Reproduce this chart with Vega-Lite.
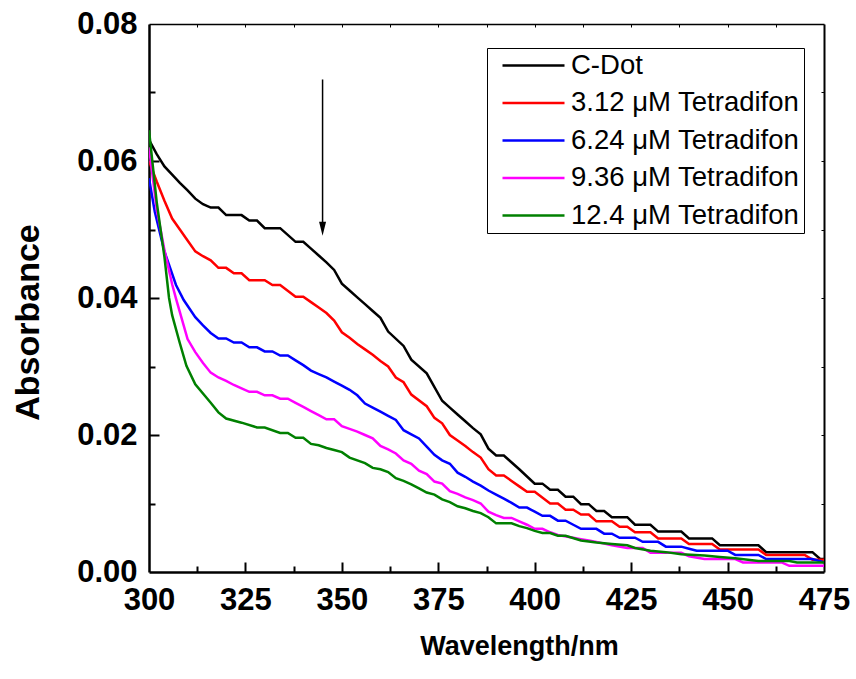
{
  "$schema": "https://vega.github.io/schema/vega-lite/v6.json",
  "width": 675,
  "height": 548,
  "autosize": {"type": "none"},
  "padding": {"left": 149, "top": 24, "right": 32, "bottom": 107},
  "background": "white",
  "config": {
    "view": {"stroke": null},
    "axis": {
      "domainColor": "black", "labelColor": "black", "titleColor": "black",
      "labelFont": "Liberation Sans", "titleFont": "Liberation Sans",
      "labelFontWeight": "bold", "titleFontWeight": "bold",
      "labelFontSize": 31, "grid": false, "labelFlush": false, "labelOverlap": false
    }
  },
  "datasets": {
    "spectra": [
      {"s":"C-Dot","x":300,"y":0.0631},{"s":"C-Dot","x":302,"y":0.0610},{"s":"C-Dot","x":304,"y":0.0592},{"s":"C-Dot","x":306,"y":0.0580},{"s":"C-Dot","x":308,"y":0.0568},{"s":"C-Dot","x":310,"y":0.0557},{"s":"C-Dot","x":312,"y":0.0545},{"s":"C-Dot","x":314,"y":0.0537},{"s":"C-Dot","x":316,"y":0.0532},{"s":"C-Dot","x":318,"y":0.0532},{"s":"C-Dot","x":320,"y":0.0521},{"s":"C-Dot","x":324,"y":0.0521},{"s":"C-Dot","x":326,"y":0.0513},{"s":"C-Dot","x":328,"y":0.0513},{"s":"C-Dot","x":330,"y":0.0502},{"s":"C-Dot","x":334,"y":0.0502},{"s":"C-Dot","x":338,"y":0.0482},{"s":"C-Dot","x":340,"y":0.0482},{"s":"C-Dot","x":342,"y":0.0472},{"s":"C-Dot","x":344,"y":0.0462},{"s":"C-Dot","x":346,"y":0.0452},{"s":"C-Dot","x":348,"y":0.0441},{"s":"C-Dot","x":350,"y":0.0421},{"s":"C-Dot","x":352,"y":0.0411},{"s":"C-Dot","x":354,"y":0.0401},{"s":"C-Dot","x":356,"y":0.0391},{"s":"C-Dot","x":358,"y":0.0381},{"s":"C-Dot","x":360,"y":0.0371},{"s":"C-Dot","x":362,"y":0.0351},{"s":"C-Dot","x":366,"y":0.0330},{"s":"C-Dot","x":368,"y":0.0310},{"s":"C-Dot","x":372,"y":0.0290},{"s":"C-Dot","x":376,"y":0.0250},{"s":"C-Dot","x":378,"y":0.0240},{"s":"C-Dot","x":380,"y":0.0230},{"s":"C-Dot","x":382,"y":0.0220},{"s":"C-Dot","x":384,"y":0.0210},{"s":"C-Dot","x":386,"y":0.0201},{"s":"C-Dot","x":388,"y":0.0180},{"s":"C-Dot","x":390,"y":0.0170},{"s":"C-Dot","x":392,"y":0.0170},{"s":"C-Dot","x":396,"y":0.0150},{"s":"C-Dot","x":400,"y":0.0129},{"s":"C-Dot","x":402,"y":0.0129},{"s":"C-Dot","x":404,"y":0.0120},{"s":"C-Dot","x":406,"y":0.0120},{"s":"C-Dot","x":408,"y":0.0110},{"s":"C-Dot","x":410,"y":0.0110},{"s":"C-Dot","x":412,"y":0.0099},{"s":"C-Dot","x":414,"y":0.0099},{"s":"C-Dot","x":416,"y":0.0089},{"s":"C-Dot","x":418,"y":0.0089},{"s":"C-Dot","x":420,"y":0.0080},{"s":"C-Dot","x":424,"y":0.0080},{"s":"C-Dot","x":426,"y":0.0069},{"s":"C-Dot","x":430,"y":0.0069},{"s":"C-Dot","x":432,"y":0.0059},{"s":"C-Dot","x":438,"y":0.0059},{"s":"C-Dot","x":440,"y":0.0049},{"s":"C-Dot","x":446,"y":0.0049},{"s":"C-Dot","x":448,"y":0.0039},{"s":"C-Dot","x":458,"y":0.0039},{"s":"C-Dot","x":460,"y":0.0029},{"s":"C-Dot","x":472,"y":0.0029},{"s":"C-Dot","x":474,"y":0.0019},{"s":"C-Dot","x":475,"y":0.0019},

      {"s":"3.12 μM Tetradifon","x":300,"y":0.0600},{"s":"3.12 μM Tetradifon","x":302,"y":0.0570},{"s":"3.12 μM Tetradifon","x":304,"y":0.0542},{"s":"3.12 μM Tetradifon","x":306,"y":0.0516},{"s":"3.12 μM Tetradifon","x":308,"y":0.0500},{"s":"3.12 μM Tetradifon","x":310,"y":0.0484},{"s":"3.12 μM Tetradifon","x":312,"y":0.0468},{"s":"3.12 μM Tetradifon","x":314,"y":0.0461},{"s":"3.12 μM Tetradifon","x":316,"y":0.0455},{"s":"3.12 μM Tetradifon","x":318,"y":0.0444},{"s":"3.12 μM Tetradifon","x":320,"y":0.0444},{"s":"3.12 μM Tetradifon","x":322,"y":0.0436},{"s":"3.12 μM Tetradifon","x":324,"y":0.0436},{"s":"3.12 μM Tetradifon","x":326,"y":0.0426},{"s":"3.12 μM Tetradifon","x":330,"y":0.0426},{"s":"3.12 μM Tetradifon","x":332,"y":0.0419},{"s":"3.12 μM Tetradifon","x":334,"y":0.0419},{"s":"3.12 μM Tetradifon","x":338,"y":0.0402},{"s":"3.12 μM Tetradifon","x":340,"y":0.0402},{"s":"3.12 μM Tetradifon","x":342,"y":0.0394},{"s":"3.12 μM Tetradifon","x":344,"y":0.0386},{"s":"3.12 μM Tetradifon","x":346,"y":0.0378},{"s":"3.12 μM Tetradifon","x":348,"y":0.0367},{"s":"3.12 μM Tetradifon","x":350,"y":0.0350},{"s":"3.12 μM Tetradifon","x":352,"y":0.0342},{"s":"3.12 μM Tetradifon","x":354,"y":0.0333},{"s":"3.12 μM Tetradifon","x":356,"y":0.0325},{"s":"3.12 μM Tetradifon","x":358,"y":0.0317},{"s":"3.12 μM Tetradifon","x":360,"y":0.0308},{"s":"3.12 μM Tetradifon","x":362,"y":0.0300},{"s":"3.12 μM Tetradifon","x":364,"y":0.0284},{"s":"3.12 μM Tetradifon","x":366,"y":0.0277},{"s":"3.12 μM Tetradifon","x":368,"y":0.0259},{"s":"3.12 μM Tetradifon","x":372,"y":0.0242},{"s":"3.12 μM Tetradifon","x":374,"y":0.0225},{"s":"3.12 μM Tetradifon","x":376,"y":0.0217},{"s":"3.12 μM Tetradifon","x":378,"y":0.0200},{"s":"3.12 μM Tetradifon","x":380,"y":0.0192},{"s":"3.12 μM Tetradifon","x":382,"y":0.0184},{"s":"3.12 μM Tetradifon","x":384,"y":0.0175},{"s":"3.12 μM Tetradifon","x":386,"y":0.0167},{"s":"3.12 μM Tetradifon","x":388,"y":0.0150},{"s":"3.12 μM Tetradifon","x":390,"y":0.0141},{"s":"3.12 μM Tetradifon","x":392,"y":0.0141},{"s":"3.12 μM Tetradifon","x":394,"y":0.0133},{"s":"3.12 μM Tetradifon","x":396,"y":0.0125},{"s":"3.12 μM Tetradifon","x":398,"y":0.0117},{"s":"3.12 μM Tetradifon","x":400,"y":0.0117},{"s":"3.12 μM Tetradifon","x":404,"y":0.0100},{"s":"3.12 μM Tetradifon","x":406,"y":0.0100},{"s":"3.12 μM Tetradifon","x":408,"y":0.0091},{"s":"3.12 μM Tetradifon","x":410,"y":0.0091},{"s":"3.12 μM Tetradifon","x":412,"y":0.0084},{"s":"3.12 μM Tetradifon","x":414,"y":0.0084},{"s":"3.12 μM Tetradifon","x":416,"y":0.0074},{"s":"3.12 μM Tetradifon","x":420,"y":0.0074},{"s":"3.12 μM Tetradifon","x":422,"y":0.0066},{"s":"3.12 μM Tetradifon","x":424,"y":0.0066},{"s":"3.12 μM Tetradifon","x":426,"y":0.0058},{"s":"3.12 μM Tetradifon","x":430,"y":0.0058},{"s":"3.12 μM Tetradifon","x":432,"y":0.0049},{"s":"3.12 μM Tetradifon","x":438,"y":0.0049},{"s":"3.12 μM Tetradifon","x":440,"y":0.0041},{"s":"3.12 μM Tetradifon","x":446,"y":0.0041},{"s":"3.12 μM Tetradifon","x":448,"y":0.0033},{"s":"3.12 μM Tetradifon","x":458,"y":0.0033},{"s":"3.12 μM Tetradifon","x":460,"y":0.0025},{"s":"3.12 μM Tetradifon","x":470,"y":0.0025},{"s":"3.12 μM Tetradifon","x":472,"y":0.0018},{"s":"3.12 μM Tetradifon","x":475,"y":0.0018},

      {"s":"6.24 μM Tetradifon","x":300,"y":0.0575},{"s":"6.24 μM Tetradifon","x":301.5,"y":0.0526},{"s":"6.24 μM Tetradifon","x":304,"y":0.0468},{"s":"6.24 μM Tetradifon","x":307,"y":0.0419},{"s":"6.24 μM Tetradifon","x":309,"y":0.0397},{"s":"6.24 μM Tetradifon","x":312,"y":0.0372},{"s":"6.24 μM Tetradifon","x":314,"y":0.0360},{"s":"6.24 μM Tetradifon","x":316,"y":0.0349},{"s":"6.24 μM Tetradifon","x":318,"y":0.0341},{"s":"6.24 μM Tetradifon","x":320,"y":0.0341},{"s":"6.24 μM Tetradifon","x":322,"y":0.0335},{"s":"6.24 μM Tetradifon","x":324,"y":0.0335},{"s":"6.24 μM Tetradifon","x":326,"y":0.0328},{"s":"6.24 μM Tetradifon","x":328,"y":0.0328},{"s":"6.24 μM Tetradifon","x":330,"y":0.0322},{"s":"6.24 μM Tetradifon","x":332,"y":0.0322},{"s":"6.24 μM Tetradifon","x":334,"y":0.0316},{"s":"6.24 μM Tetradifon","x":336,"y":0.0316},{"s":"6.24 μM Tetradifon","x":338,"y":0.0309},{"s":"6.24 μM Tetradifon","x":340,"y":0.0302},{"s":"6.24 μM Tetradifon","x":342,"y":0.0294},{"s":"6.24 μM Tetradifon","x":344,"y":0.0289},{"s":"6.24 μM Tetradifon","x":346,"y":0.0284},{"s":"6.24 μM Tetradifon","x":348,"y":0.0278},{"s":"6.24 μM Tetradifon","x":350,"y":0.0272},{"s":"6.24 μM Tetradifon","x":352,"y":0.0266},{"s":"6.24 μM Tetradifon","x":354,"y":0.0258},{"s":"6.24 μM Tetradifon","x":356,"y":0.0246},{"s":"6.24 μM Tetradifon","x":358,"y":0.0240},{"s":"6.24 μM Tetradifon","x":360,"y":0.0234},{"s":"6.24 μM Tetradifon","x":362,"y":0.0228},{"s":"6.24 μM Tetradifon","x":364,"y":0.0222},{"s":"6.24 μM Tetradifon","x":366,"y":0.0207},{"s":"6.24 μM Tetradifon","x":368,"y":0.0201},{"s":"6.24 μM Tetradifon","x":370,"y":0.0195},{"s":"6.24 μM Tetradifon","x":372,"y":0.0183},{"s":"6.24 μM Tetradifon","x":374,"y":0.0171},{"s":"6.24 μM Tetradifon","x":376,"y":0.0163},{"s":"6.24 μM Tetradifon","x":378,"y":0.0158},{"s":"6.24 μM Tetradifon","x":380,"y":0.0145},{"s":"6.24 μM Tetradifon","x":382,"y":0.0139},{"s":"6.24 μM Tetradifon","x":384,"y":0.0132},{"s":"6.24 μM Tetradifon","x":386,"y":0.0126},{"s":"6.24 μM Tetradifon","x":388,"y":0.0119},{"s":"6.24 μM Tetradifon","x":390,"y":0.0113},{"s":"6.24 μM Tetradifon","x":392,"y":0.0107},{"s":"6.24 μM Tetradifon","x":394,"y":0.0101},{"s":"6.24 μM Tetradifon","x":396,"y":0.0094},{"s":"6.24 μM Tetradifon","x":398,"y":0.0094},{"s":"6.24 μM Tetradifon","x":400,"y":0.0088},{"s":"6.24 μM Tetradifon","x":402,"y":0.0082},{"s":"6.24 μM Tetradifon","x":404,"y":0.0082},{"s":"6.24 μM Tetradifon","x":406,"y":0.0075},{"s":"6.24 μM Tetradifon","x":408,"y":0.0075},{"s":"6.24 μM Tetradifon","x":410,"y":0.0069},{"s":"6.24 μM Tetradifon","x":412,"y":0.0063},{"s":"6.24 μM Tetradifon","x":416,"y":0.0063},{"s":"6.24 μM Tetradifon","x":418,"y":0.0056},{"s":"6.24 μM Tetradifon","x":420,"y":0.0056},{"s":"6.24 μM Tetradifon","x":422,"y":0.0050},{"s":"6.24 μM Tetradifon","x":426,"y":0.0050},{"s":"6.24 μM Tetradifon","x":428,"y":0.0044},{"s":"6.24 μM Tetradifon","x":432,"y":0.0044},{"s":"6.24 μM Tetradifon","x":434,"y":0.0037},{"s":"6.24 μM Tetradifon","x":438,"y":0.0037},{"s":"6.24 μM Tetradifon","x":440,"y":0.0034},{"s":"6.24 μM Tetradifon","x":442,"y":0.0031},{"s":"6.24 μM Tetradifon","x":450,"y":0.0031},{"s":"6.24 μM Tetradifon","x":452,"y":0.0025},{"s":"6.24 μM Tetradifon","x":458,"y":0.0025},{"s":"6.24 μM Tetradifon","x":460,"y":0.0019},{"s":"6.24 μM Tetradifon","x":472,"y":0.0019},{"s":"6.24 μM Tetradifon","x":475,"y":0.0014},

      {"s":"9.36 μM Tetradifon","x":300,"y":0.0620},{"s":"9.36 μM Tetradifon","x":302,"y":0.0530},{"s":"9.36 μM Tetradifon","x":304,"y":0.0470},{"s":"9.36 μM Tetradifon","x":306,"y":0.0420},{"s":"9.36 μM Tetradifon","x":307,"y":0.0399},{"s":"9.36 μM Tetradifon","x":310,"y":0.0340},{"s":"9.36 μM Tetradifon","x":312,"y":0.0321},{"s":"9.36 μM Tetradifon","x":314,"y":0.0305},{"s":"9.36 μM Tetradifon","x":316,"y":0.0291},{"s":"9.36 μM Tetradifon","x":318,"y":0.0284},{"s":"9.36 μM Tetradifon","x":320,"y":0.0279},{"s":"9.36 μM Tetradifon","x":322,"y":0.0273},{"s":"9.36 μM Tetradifon","x":324,"y":0.0268},{"s":"9.36 μM Tetradifon","x":326,"y":0.0263},{"s":"9.36 μM Tetradifon","x":328,"y":0.0263},{"s":"9.36 μM Tetradifon","x":330,"y":0.0258},{"s":"9.36 μM Tetradifon","x":332,"y":0.0258},{"s":"9.36 μM Tetradifon","x":334,"y":0.0253},{"s":"9.36 μM Tetradifon","x":336,"y":0.0253},{"s":"9.36 μM Tetradifon","x":338,"y":0.0247},{"s":"9.36 μM Tetradifon","x":340,"y":0.0241},{"s":"9.36 μM Tetradifon","x":342,"y":0.0235},{"s":"9.36 μM Tetradifon","x":344,"y":0.0229},{"s":"9.36 μM Tetradifon","x":346,"y":0.0223},{"s":"9.36 μM Tetradifon","x":348,"y":0.0223},{"s":"9.36 μM Tetradifon","x":350,"y":0.0213},{"s":"9.36 μM Tetradifon","x":352,"y":0.0209},{"s":"9.36 μM Tetradifon","x":354,"y":0.0205},{"s":"9.36 μM Tetradifon","x":356,"y":0.0200},{"s":"9.36 μM Tetradifon","x":358,"y":0.0195},{"s":"9.36 μM Tetradifon","x":360,"y":0.0184},{"s":"9.36 μM Tetradifon","x":362,"y":0.0179},{"s":"9.36 μM Tetradifon","x":364,"y":0.0173},{"s":"9.36 μM Tetradifon","x":366,"y":0.0163},{"s":"9.36 μM Tetradifon","x":368,"y":0.0158},{"s":"9.36 μM Tetradifon","x":370,"y":0.0148},{"s":"9.36 μM Tetradifon","x":372,"y":0.0143},{"s":"9.36 μM Tetradifon","x":374,"y":0.0132},{"s":"9.36 μM Tetradifon","x":376,"y":0.0129},{"s":"9.36 μM Tetradifon","x":378,"y":0.0118},{"s":"9.36 μM Tetradifon","x":380,"y":0.0114},{"s":"9.36 μM Tetradifon","x":382,"y":0.0109},{"s":"9.36 μM Tetradifon","x":384,"y":0.0105},{"s":"9.36 μM Tetradifon","x":386,"y":0.0100},{"s":"9.36 μM Tetradifon","x":388,"y":0.0088},{"s":"9.36 μM Tetradifon","x":390,"y":0.0083},{"s":"9.36 μM Tetradifon","x":392,"y":0.0079},{"s":"9.36 μM Tetradifon","x":394,"y":0.0079},{"s":"9.36 μM Tetradifon","x":396,"y":0.0074},{"s":"9.36 μM Tetradifon","x":398,"y":0.0069},{"s":"9.36 μM Tetradifon","x":400,"y":0.0063},{"s":"9.36 μM Tetradifon","x":402,"y":0.0063},{"s":"9.36 μM Tetradifon","x":404,"y":0.0058},{"s":"9.36 μM Tetradifon","x":406,"y":0.0054},{"s":"9.36 μM Tetradifon","x":410,"y":0.0050},{"s":"9.36 μM Tetradifon","x":412,"y":0.0048},{"s":"9.36 μM Tetradifon","x":414,"y":0.0046},{"s":"9.36 μM Tetradifon","x":416,"y":0.0044},{"s":"9.36 μM Tetradifon","x":420,"y":0.0039},{"s":"9.36 μM Tetradifon","x":424,"y":0.0035},{"s":"9.36 μM Tetradifon","x":428,"y":0.0035},{"s":"9.36 μM Tetradifon","x":430,"y":0.0028},{"s":"9.36 μM Tetradifon","x":438,"y":0.0028},{"s":"9.36 μM Tetradifon","x":440,"y":0.0023},{"s":"9.36 μM Tetradifon","x":444,"y":0.0019},{"s":"9.36 μM Tetradifon","x":452,"y":0.0019},{"s":"9.36 μM Tetradifon","x":454,"y":0.0014},{"s":"9.36 μM Tetradifon","x":464,"y":0.0014},{"s":"9.36 μM Tetradifon","x":466,"y":0.0009},{"s":"9.36 μM Tetradifon","x":475,"y":0.0009},

      {"s":"12.4 μM Tetradifon","x":300,"y":0.0645},{"s":"12.4 μM Tetradifon","x":302,"y":0.0540},{"s":"12.4 μM Tetradifon","x":304,"y":0.0460},{"s":"12.4 μM Tetradifon","x":305.2,"y":0.0400},{"s":"12.4 μM Tetradifon","x":306,"y":0.0375},{"s":"12.4 μM Tetradifon","x":308,"y":0.0334},{"s":"12.4 μM Tetradifon","x":309.7,"y":0.0301},{"s":"12.4 μM Tetradifon","x":312,"y":0.0274},{"s":"12.4 μM Tetradifon","x":316,"y":0.0247},{"s":"12.4 μM Tetradifon","x":318,"y":0.0233},{"s":"12.4 μM Tetradifon","x":320,"y":0.0224},{"s":"12.4 μM Tetradifon","x":324,"y":0.0218},{"s":"12.4 μM Tetradifon","x":328,"y":0.0211},{"s":"12.4 μM Tetradifon","x":330,"y":0.0211},{"s":"12.4 μM Tetradifon","x":334,"y":0.0203},{"s":"12.4 μM Tetradifon","x":336,"y":0.0203},{"s":"12.4 μM Tetradifon","x":338,"y":0.0196},{"s":"12.4 μM Tetradifon","x":340,"y":0.0196},{"s":"12.4 μM Tetradifon","x":342,"y":0.0187},{"s":"12.4 μM Tetradifon","x":344,"y":0.0185},{"s":"12.4 μM Tetradifon","x":346,"y":0.0181},{"s":"12.4 μM Tetradifon","x":348,"y":0.0178},{"s":"12.4 μM Tetradifon","x":350,"y":0.0175},{"s":"12.4 μM Tetradifon","x":352,"y":0.0167},{"s":"12.4 μM Tetradifon","x":356,"y":0.0159},{"s":"12.4 μM Tetradifon","x":358,"y":0.0152},{"s":"12.4 μM Tetradifon","x":360,"y":0.0150},{"s":"12.4 μM Tetradifon","x":362,"y":0.0146},{"s":"12.4 μM Tetradifon","x":364,"y":0.0137},{"s":"12.4 μM Tetradifon","x":366,"y":0.0133},{"s":"12.4 μM Tetradifon","x":368,"y":0.0128},{"s":"12.4 μM Tetradifon","x":370,"y":0.0122},{"s":"12.4 μM Tetradifon","x":372,"y":0.0116},{"s":"12.4 μM Tetradifon","x":374,"y":0.0113},{"s":"12.4 μM Tetradifon","x":376,"y":0.0106},{"s":"12.4 μM Tetradifon","x":378,"y":0.0102},{"s":"12.4 μM Tetradifon","x":380,"y":0.0096},{"s":"12.4 μM Tetradifon","x":382,"y":0.0093},{"s":"12.4 μM Tetradifon","x":384,"y":0.0089},{"s":"12.4 μM Tetradifon","x":386,"y":0.0086},{"s":"12.4 μM Tetradifon","x":388,"y":0.0080},{"s":"12.4 μM Tetradifon","x":390,"y":0.0071},{"s":"12.4 μM Tetradifon","x":394,"y":0.0071},{"s":"12.4 μM Tetradifon","x":396,"y":0.0067},{"s":"12.4 μM Tetradifon","x":398,"y":0.0064},{"s":"12.4 μM Tetradifon","x":400,"y":0.0060},{"s":"12.4 μM Tetradifon","x":402,"y":0.0057},{"s":"12.4 μM Tetradifon","x":404,"y":0.0057},{"s":"12.4 μM Tetradifon","x":406,"y":0.0053},{"s":"12.4 μM Tetradifon","x":408,"y":0.0053},{"s":"12.4 μM Tetradifon","x":412,"y":0.0046},{"s":"12.4 μM Tetradifon","x":416,"y":0.0043},{"s":"12.4 μM Tetradifon","x":420,"y":0.0041},{"s":"12.4 μM Tetradifon","x":424,"y":0.0039},{"s":"12.4 μM Tetradifon","x":426,"y":0.0035},{"s":"12.4 μM Tetradifon","x":430,"y":0.0031},{"s":"12.4 μM Tetradifon","x":434,"y":0.0029},{"s":"12.4 μM Tetradifon","x":438,"y":0.0026},{"s":"12.4 μM Tetradifon","x":444,"y":0.0024},{"s":"12.4 μM Tetradifon","x":448,"y":0.0022},{"s":"12.4 μM Tetradifon","x":452,"y":0.0020},{"s":"12.4 μM Tetradifon","x":458,"y":0.0016},{"s":"12.4 μM Tetradifon","x":466,"y":0.0016},{"s":"12.4 μM Tetradifon","x":468,"y":0.0014},{"s":"12.4 μM Tetradifon","x":475,"y":0.0014}
    ],
    "arrow": [{"x": 345, "y": 0.0719, "y2": 0.0501}]
  },
  "resolve": {"axis": {"x": "independent", "y": "independent"}},
  "layer": [
    {
      "data": {"name": "spectra"},
      "mark": {"type": "line", "strokeWidth": 2.5, "clip": true},
      "encoding": {
        "x": {"field": "x", "type": "quantitative",
          "scale": {"domain": [300, 475], "nice": false, "zero": false},
          "axis": {"orient": "bottom", "values": [300, 325, 350, 375, 400, 425, 450, 475], "ticks": false, "domainWidth": 2.5, "labelPadding": 13,
            "title": "Wavelength/nm", "titleFontSize": 27, "titleX": 370, "titleY": 82, "titleBaseline": "alphabetic", "titleAlign": "center"}},
        "y": {"field": "y", "type": "quantitative",
          "scale": {"domain": [0, 0.08], "nice": false, "zero": true},
          "axis": {"orient": "left", "values": [0, 0.02, 0.04, 0.06, 0.08], "format": ".2f", "ticks": false, "domainWidth": 2.5, "labelPadding": 12,
            "title": "Absorbance", "titleFontSize": 34, "titleX": -111, "titleY": 298, "titleBaseline": "alphabetic", "titleAngle": -90, "titleAlign": "center"}},
        "color": {"field": "s", "type": "nominal",
          "scale": {"domain": ["C-Dot", "3.12 μM Tetradifon", "6.24 μM Tetradifon", "9.36 μM Tetradifon", "12.4 μM Tetradifon"],
                    "range": ["#000000", "#ff0000", "#0000ff", "#ff00ff", "#008000"]},
          "legend": {"orient": "none", "legendX": 338, "legendY": 24, "title": null,
            "strokeColor": "black", "fillColor": "white", "padding": 4,
            "symbolType": "stroke", "symbolSize": 3844, "symbolStrokeWidth": 2.5,
            "labelFont": "Liberation Sans", "labelFontSize": 27.5, "labelColor": "black", "labelLimit": 0,
            "clipHeight": 27, "rowPadding": 9.5, "labelOffset": 5, "symbolOffset": 10}}
      }
    },
    {
      "data": {"name": "arrow"},
      "mark": {"type": "rule", "color": "black", "strokeWidth": 1.5},
      "encoding": {
        "x": {"field": "x", "type": "quantitative", "scale": {"domain": [300, 475], "nice": false, "zero": false},
          "axis": {"orient": "bottom", "offset": -10, "values": [325, 350, 375, 400, 425, 450], "ticks": true, "tickColor": "black", "tickSize": 10, "tickWidth": 2, "labels": false, "domain": false, "title": null}},
        "y": {"field": "y", "type": "quantitative", "scale": {"domain": [0, 0.08], "nice": false},
          "axis": {"orient": "left", "offset": -10, "values": [0.02, 0.04, 0.06], "ticks": true, "tickColor": "black", "tickSize": 10, "tickWidth": 2, "labels": false, "domain": false, "title": null}},
        "y2": {"field": "y2"}
      }
    },
    {
      "data": {"name": "arrow"},
      "mark": {"type": "point", "shape": "M-0.5,-1L0.5,-1L0,1Z", "filled": true, "color": "black", "opacity": 1, "size": 196},
      "encoding": {
        "x": {"field": "x", "type": "quantitative", "scale": {"domain": [300, 475], "nice": false, "zero": false},
          "axis": {"orient": "bottom", "offset": -6, "values": [312.5, 337.5, 362.5, 387.5, 412.5, 437.5, 462.5], "ticks": true, "tickColor": "black", "tickSize": 6, "tickWidth": 2, "labels": false, "domain": false, "title": null}},
        "y": {"field": "y2", "type": "quantitative", "scale": {"domain": [0, 0.08], "nice": false},
          "axis": {"orient": "left", "offset": -6, "values": [0.01, 0.03, 0.05, 0.07], "ticks": true, "tickColor": "black", "tickSize": 6, "tickWidth": 2, "labels": false, "domain": false, "title": null}}
      }
    },
    {
      "data": {"name": "arrow"},
      "mark": {"type": "point", "opacity": 0, "size": 1},
      "encoding": {
        "x": {"field": "x", "type": "quantitative", "scale": {"domain": [300, 475], "nice": false, "zero": false},
          "axis": {"orient": "top", "values": [312.5, 325, 337.5, 350, 362.5, 375, 387.5, 400, 412.5, 425, 437.5, 450, 462.5], "offset": -3, "ticks": true, "tickColor": "black", "tickSize": 3, "tickWidth": 1, "domain": false, "labels": false, "title": null}},
        "y": {"field": "y2", "type": "quantitative", "scale": {"domain": [0, 0.08], "nice": false},
          "axis": {"orient": "right", "values": [0.01, 0.02, 0.03, 0.04, 0.05, 0.06, 0.07], "offset": -3, "ticks": true, "tickColor": "black", "tickSize": 3, "tickWidth": 1, "domain": false, "labels": false, "title": null}}
      }
    },
    {
      "data": {"name": "arrow"},
      "mark": {"type": "point", "opacity": 0, "size": 1},
      "encoding": {
        "x": {"field": "x", "type": "quantitative", "scale": {"domain": [300, 475], "nice": false, "zero": false},
          "axis": {"orient": "top", "values": [], "ticks": false, "domainWidth": 1.5, "labels": false, "title": null}},
        "y": {"field": "y2", "type": "quantitative", "scale": {"domain": [0, 0.08], "nice": false},
          "axis": {"orient": "right", "values": [], "ticks": false, "domainWidth": 2, "labels": false, "title": null}}
      }
    }
  ]
}
